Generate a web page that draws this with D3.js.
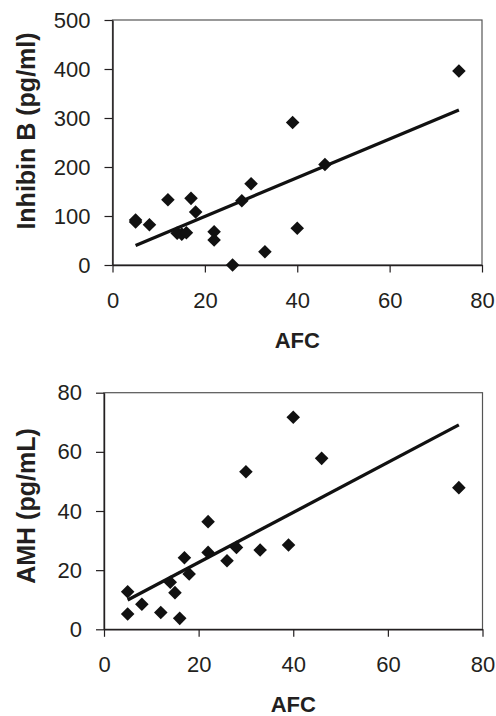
<!DOCTYPE html>
<html>
<head>
<meta charset="utf-8">
<script src="https://cdn.jsdelivr.net/npm/d3@7"></script>
<style>
  html, body { margin: 0; padding: 0; background: #fff; }
  svg { display: block; font-family: "Liberation Sans", Arial, sans-serif; }
</style>
</head>
<body>
<div id="chart"></div>
<script>
// AFC values (shared x for both panels)
const afc = [5, 5, 8, 12, 14, 15, 16, 17, 18, 22, 22, 26, 28, 30, 33, 39, 40, 46, 75];
// Inhibin B (pg/ml)
const inhibinB = [92, 88, 82, 133, 65, 63, 66, 136, 108, 68, 51, 0, 131, 166, 27, 291, 75, 205, 396];
// AMH (pg/mL)
const amh = [12.7, 5.2, 8.5, 5.7, 15.9, 12.4, 3.7, 24.2, 18.7, 36.4, 26.0, 23.2, 27.7, 53.3, 26.8, 28.5, 71.7, 57.8, 47.9];

const xTicks = [0, 20, 40, 60, 80];
const inhibinTicks = [0, 100, 200, 300, 400, 500];
const amhTicks = [0, 20, 40, 60, 80];

const width = 496, height = 716;
const ink = "#231f20";

const svg = d3.select("#chart").append("svg")
    .attr("width", width)
    .attr("height", height);

// least squares fit
function fit(xs, ys) {
    const mx = d3.mean(xs), my = d3.mean(ys);
    let sxy = 0, sxx = 0;
    xs.forEach((x, i) => { sxy += (x - mx) * (ys[i] - my); sxx += (x - mx) * (x - mx); });
    const b = sxy / sxx;
    return { b: b, a: my - b * mx };
}

function panel(opts) {
    const x = d3.scaleLinear().domain([0, 80]).range([opts.left, opts.right]);
    const y = d3.scaleLinear().domain([0, opts.ymax]).range([opts.bottom, opts.top]);
    const g = svg.append("g");

    // plot frame
    g.append("rect")
        .attr("x", opts.left).attr("y", opts.top)
        .attr("width", opts.right - opts.left)
        .attr("height", opts.bottom - opts.top)
        .attr("fill", "none")
        .attr("stroke", "#555")
        .attr("stroke-width", 1.2);

    const xAxis = g.append("g")
        .attr("transform", `translate(0,${opts.bottom})`)
        .call(d3.axisBottom(x).tickValues(xTicks).tickSize(7.5).tickSizeOuter(0).tickPadding(20));
    const yAxis = g.append("g")
        .attr("transform", `translate(${opts.left},0)`)
        .call(d3.axisLeft(y).tickValues(opts.ticks).tickSize(8).tickSizeOuter(0).tickPadding(14));

    [xAxis, yAxis].forEach(a => {
        a.select(".domain").attr("stroke", ink).attr("stroke-width", 1.4);
        a.selectAll(".tick line").attr("stroke", ink).attr("stroke-width", 1.2);
        a.selectAll(".tick text")
            .attr("fill", ink)
            .attr("font-size", 22)
            .attr("font-family", "Liberation Sans, Arial, sans-serif");
    });

    // trend line
    const f = fit(afc, opts.values);
    const x0 = d3.min(afc), x1 = d3.max(afc);
    g.append("line")
        .attr("x1", x(x0)).attr("y1", y(f.a + f.b * x0))
        .attr("x2", x(x1)).attr("y2", y(f.a + f.b * x1))
        .attr("stroke", "#111")
        .attr("stroke-width", 3.3);

    // diamonds
    const sym = d3.symbol().type(d3.symbolSquare).size(92);
    g.append("g").selectAll("path")
        .data(afc.map((d, i) => [d, opts.values[i]]))
        .join("path")
        .attr("d", sym)
        .attr("transform", d => `translate(${x(d[0])},${y(d[1])}) rotate(45)`)
        .attr("fill", "#111");

    // axis titles
    g.append("text")
        .attr("x", (opts.left + opts.right) / 2)
        .attr("y", opts.bottom + 82.5)
        .attr("text-anchor", "middle")
        .attr("font-size", 22)
        .attr("font-weight", "bold")
        .attr("fill", ink)
        .text("AFC");

    g.append("text")
        .attr("transform", `translate(35,${opts.titleY}) rotate(-90)`)
        .attr("text-anchor", "middle")
        .attr("font-size", 25)
        .attr("font-weight", "bold")
        .attr("fill", ink)
        .text(opts.title);
}

panel({ left: 112.5, right: 482, top: 20, bottom: 265, ymax: 500,
        ticks: inhibinTicks, values: inhibinB, title: "Inhibin B  (pg/ml)", titleY: 131 });
panel({ left: 104, right: 482.5, top: 392.7, bottom: 629.3, ymax: 80,
        ticks: amhTicks, values: amh, title: "AMH (pg/mL)", titleY: 506 });
</script>
</body>
</html>
